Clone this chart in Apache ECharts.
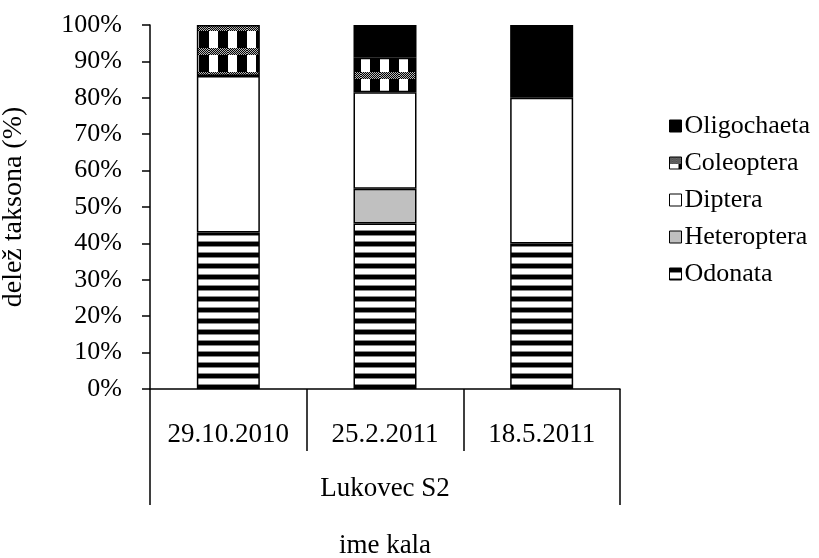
<!DOCTYPE html>
<html>
<head>
<meta charset="utf-8">
<script src="https://cdn.jsdelivr.net/npm/echarts@6/dist/echarts.min.js"></script>
<style>html,body{margin:0;padding:0;background:#fff}#c{width:819px;height:558px}</style>
</head>
<body>
<div id="c"></div>
<script>
// ---- data ----
const categories = ['29.10.2010', '25.2.2011', '18.5.2011'];
const groupLabel = ['Lukovec S2'];
const odonata = [43, 45.5, 40];
const heteroptera = [0, 9.5, 0];
const diptera = [43, 26.5, 40];
const coleoptera = [14, 9.5, 0];
const oligochaeta = [0, 9, 20];
const legendOrder = ['Oligochaeta', 'Coleoptera', 'Diptera', 'Heteroptera', 'Odonata'];
const yTicks = { min: 0, max: 100, interval: 10 };

// ---- patterns ----
function stripePattern() {
  const c = document.createElement('canvas');
  c.width = 8; c.height = 11;
  const g = c.getContext('2d');
  g.fillStyle = '#fff'; g.fillRect(0, 0, 8, 11);
  g.fillStyle = '#000'; g.fillRect(0, 0, 8, 4);
  g.fillStyle = '#888'; g.fillRect(0, 4, 8, 1); g.fillRect(0, 10, 8, 1);
  return { image: c, repeat: 'repeat' };
}
function checkPattern() {
  const c = document.createElement('canvas');
  c.width = 19; c.height = 24;
  const g = c.getContext('2d');
  g.fillStyle = '#fff'; g.fillRect(0, 0, 19, 24);
  for (let y = 0; y < 7; y++) {
    for (let x = 0; x < 19; x++) {
      g.fillStyle = ((x + y) % 2 === 0) ? '#000' : '#bbb';
      g.fillRect(x, y, 1, 1);
    }
  }
  g.fillStyle = '#000'; g.fillRect(9, 7, 10, 17);
  return { image: c, repeat: 'repeat' };
}

const fills = {
  Odonata: stripePattern(),
  Heteroptera: '#c0c0c0',
  Diptera: '#ffffff',
  Coleoptera: checkPattern(),
  Oligochaeta: '#000000'
};
const seriesData = {
  Odonata: odonata, Heteroptera: heteroptera, Diptera: diptera,
  Coleoptera: coleoptera, Oligochaeta: oligochaeta
};
const stackOrder = ['Odonata', 'Heteroptera', 'Diptera', 'Coleoptera', 'Oligochaeta'];

const font = 'Liberation Serif';
const fs = 26;
const chart = echarts.init(document.getElementById('c'), null, { renderer: 'canvas' });
chart.setOption({
  animation: false,
  backgroundColor: '#fff',
  textStyle: { fontFamily: font, color: '#000' },
  grid: { left: 150, right: 199, top: 25, bottom: 169, containLabel: false, outerBoundsMode: 'none' },
  legend: {
    data: legendOrder,
    orient: 'vertical',
    left: 664, top: 108,
    itemWidth: 12, itemHeight: 12,
    itemGap: 11,
    textStyle: { fontFamily: font, fontSize: fs, color: '#000', padding: [0, 0, 0, -2] },
    icon: 'rect',
    itemStyle: { borderColor: '#000', borderWidth: 1 }
  },
  xAxis: [
    {
      type: 'category', data: categories, position: 'bottom',
      axisLine: { show: true, lineStyle: { color: '#000', width: 1.5 } },
      axisTick: { show: true, length: 62, interval: 0, lineStyle: { color: '#000', width: 1.5 } },
      axisLabel: { margin: 32, fontSize: 27, fontFamily: font, color: '#000', interval: 0 }
    },
    {
      type: 'category', data: groupLabel, position: 'bottom',
      axisLine: { show: false },
      axisTick: { show: true, length: 116, lineStyle: { color: '#000', width: 1.5 } },
      axisLabel: { margin: 86, fontSize: 27, fontFamily: font, color: '#000' },
      name: 'ime kala', nameLocation: 'middle', nameGap: 143,
      nameTextStyle: { fontSize: 27, fontFamily: font, color: '#000' }
    }
  ],
  yAxis: {
    type: 'value', min: yTicks.min, max: yTicks.max, interval: yTicks.interval,
    axisLine: { show: true, lineStyle: { color: '#000', width: 1.5 } },
    axisTick: { show: true, length: 8, lineStyle: { color: '#000', width: 1.5 } },
    splitLine: { show: false },
    axisLabel: { formatter: '{value}%', margin: 28, fontSize: fs, fontFamily: font, color: '#000' },
    name: 'delež taksona (%)', nameLocation: 'middle', nameGap: 122, nameRotate: 90,
    nameTextStyle: { fontSize: 28, fontFamily: font, color: '#000' }
  },
  series: stackOrder.map(n => ({
    name: n, type: 'bar', stack: 'all', xAxisIndex: 0,
    barWidth: 63,
    data: seriesData[n].map(v => (v === 0 ? null : v)),
    itemStyle: { color: fills[n], borderColor: '#000', borderWidth: 1.5 }
  }))
});
</script>
</body>
</html>
